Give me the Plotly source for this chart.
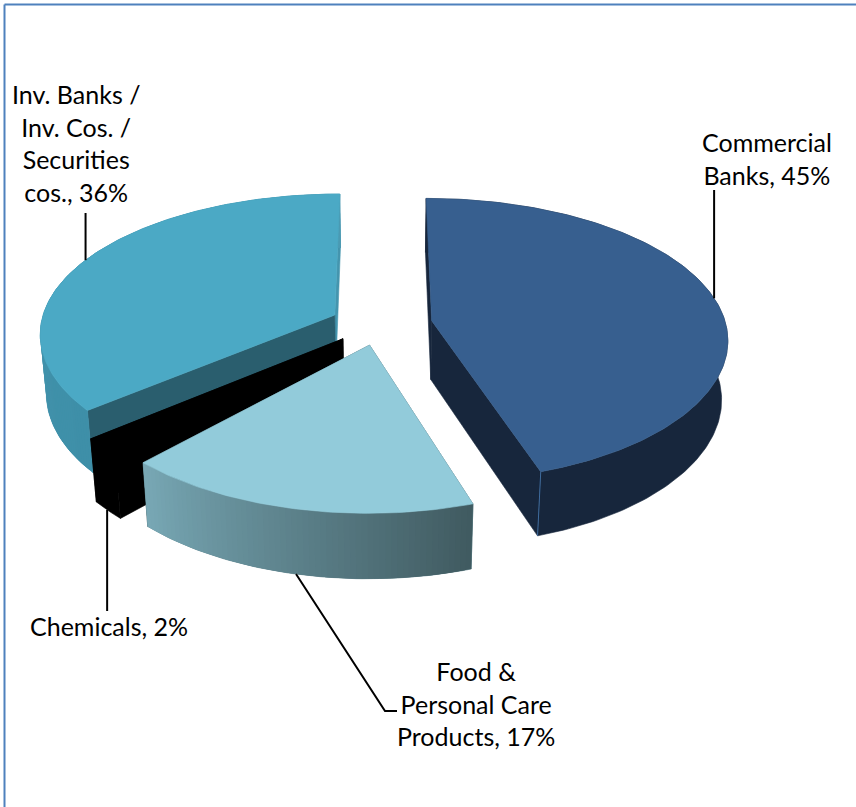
import math
import plotly.graph_objects as go

# Portfolio shares, clockwise from twelve o'clock
categories = ["Commercial Banks", "Food & Personal Care Products", "Chemicals", "Inv. Banks / Inv. Cos. / Securities cos."]
shares = [45, 17, 2, 36]
label_texts = ["Commercial<br>Banks, 45%", "Food &<br>Personal Care<br>Products, 17%", "Chemicals, 2%",
               "Inv. Banks /<br>Inv. Cos. /<br>Securities<br>cos., 36%"]

# Per-slice styling
top_colors = ["#375F8F", "#92CBDA", "#000000", "#4BA9C5"]
cut_colors = ["#17263C", "#405A60", "#000000", "#2A5E6E"]
back_cut_colors = ["#17263C", "#405A60", "#000000", "#4495AE"]
rim_light = ["#17263C", "#78A8B5", "#000000", "#4A9AB3"]   # colour at the clockwise end of the rim
rim_dark = ["#17263C", "#405A60", "#000000", "#3E8FA8"]    # colour at the anticlockwise end

# Projection of the unit disc onto the page
CX, CY = 381, 324
SX, SY = 294, 139.5
DEPTH = 60
PERSPECTIVE_X = 0.122
PERSPECTIVE_Y = 0.134
SHRINK = 0.018
EXPLODE_U = 0.175
EXPLODE_V = 0.152


def project(u, v, z):
    wx = 1 - PERSPECTIVE_X * v + SHRINK * z
    wy = 1 - PERSPECTIVE_Y * v + SHRINK * z
    return CX + SX * u / wx, CY + (SY * v + DEPTH * z) / wy


def hex_mix(a, b, t):
    pa = [int(a[i:i + 2], 16) for i in (1, 3, 5)]
    pb = [int(b[i:i + 2], 16) for i in (1, 3, 5)]
    return "#" + "".join(f"{round(x + (y - x) * t):02X}" for x, y in zip(pa, pb))


def poly(points, color, width=0.6):
    xs, ys = zip(*points)
    return go.Scatter(x=list(xs) + [xs[0]], y=list(ys) + [ys[0]], mode="lines", fill="toself",
                      fillcolor=color, line=dict(color=color, width=width),
                      hoverinfo="skip", showlegend=False)


def slice_geometry(index):
    # Angular span of a slice and its outward shift; +v points towards the viewer
    start = sum(shares[:index]) * 3.6
    end = start + shares[index] * 3.6
    mid = math.radians((start + end) / 2)
    return start, end, EXPLODE_U * math.sin(mid), -EXPLODE_V * math.cos(mid)


def rim_point(index, angle_deg, z):
    _, _, ou, ov = slice_geometry(index)
    a = math.radians(angle_deg)
    return project(ou + math.sin(a), ov - math.cos(a), z)


def apex(index, z):
    _, _, ou, ov = slice_geometry(index)
    return project(ou, ov, z)


fig = go.Figure()

# Painter's order: back slices first, the top face last within each slice
for i in (3, 2, 1, 0):
    start, end, _, _ = slice_geometry(i)
    steps = max(int(end - start), 6)
    angles = [start + (end - start) * k / steps for k in range(steps + 1)]

    # the two radial cut faces
    fig.add_trace(poly([apex(i, 0), rim_point(i, end, 0), rim_point(i, end, 1), apex(i, 1)], back_cut_colors[i]))
    fig.add_trace(poly([apex(i, 0), rim_point(i, start, 0), rim_point(i, start, 1), apex(i, 1)], cut_colors[i]))

    # curved outer wall: one base polygon, then overlapping strips carrying the shade
    wall = [rim_point(i, a, 0) for a in angles] + [rim_point(i, a, 1) for a in reversed(angles)]
    fig.add_trace(poly(wall, hex_mix(rim_dark[i], rim_light[i], 0.5)))
    if rim_dark[i] != rim_light[i]:
        for k in range(steps):
            t = (k + 0.5) / steps
            stop = min(k + 2, steps)
            strip = [rim_point(i, angles[k], 0), rim_point(i, angles[stop], 0),
                     rim_point(i, angles[stop], 1), rim_point(i, angles[k], 1)]
            fig.add_trace(poly(strip, hex_mix(rim_dark[i], rim_light[i], t), width=0))

    # top face
    fig.add_trace(poly([apex(i, 0)] + [rim_point(i, a, 0) for a in angles], top_colors[i]))

# Pale seam on the front corner of the largest slice
seam = [rim_point(0, shares[0] * 3.6, 0), rim_point(0, shares[0] * 3.6, 1)]
fig.add_trace(go.Scatter(x=[p[0] for p in seam], y=[p[1] for p in seam], mode="lines",
                         line=dict(color="#3F6C9E", width=1), hoverinfo="skip", showlegend=False))

# Leader lines: from a point on a slice's rim out to its label
LEADER_BLACK = dict(color="#000000", width=2)
leaders = [
    (rim_point(0, 80.5, 0), [(None, 190)]),
    (rim_point(3, 295, 0), [(None, 213)]),
    (rim_point(2, 227, 1), [(None, 611)]),
    (rim_point(1, 192.5, 1), [(385, 711), (397, 711)]),
]
for anchor, path in leaders:
    xs, ys = [anchor[0]], [anchor[1]]
    for px, py in path:
        xs.append(anchor[0] if px is None else px)
        ys.append(py)
    fig.add_trace(go.Scatter(x=xs, y=ys, mode="lines", line=LEADER_BLACK, hoverinfo="skip", showlegend=False))

# Category labels
label_positions = [(767, 158), (476, 703), (109, 626), (76, 143)]
for text, (lx, ly) in zip(label_texts, label_positions):
    fig.add_annotation(x=lx, y=ly, text=text, showarrow=False, xanchor="center", yanchor="middle", align="center",
                       font=dict(family="Lato", size=25, color="#000000"))

fig.update_layout(
    width=856, height=807, margin=dict(l=0, r=0, t=0, b=0),
    paper_bgcolor="#FFFFFF", plot_bgcolor="#FFFFFF", showlegend=False,
    xaxis=dict(range=[0, 856], visible=False, fixedrange=True),
    yaxis=dict(range=[807, 0], visible=False, fixedrange=True),
    shapes=[
        dict(type="line", x0=4.5, x1=856, y0=4.5, y1=4.5, line=dict(color="#4F81BD", width=2)),
        dict(type="line", x0=4.5, x1=4.5, y0=4.5, y1=807, line=dict(color="#4F81BD", width=2)),
    ],
)

fig.write_html("out.html", config={"displayModeBar": False})
